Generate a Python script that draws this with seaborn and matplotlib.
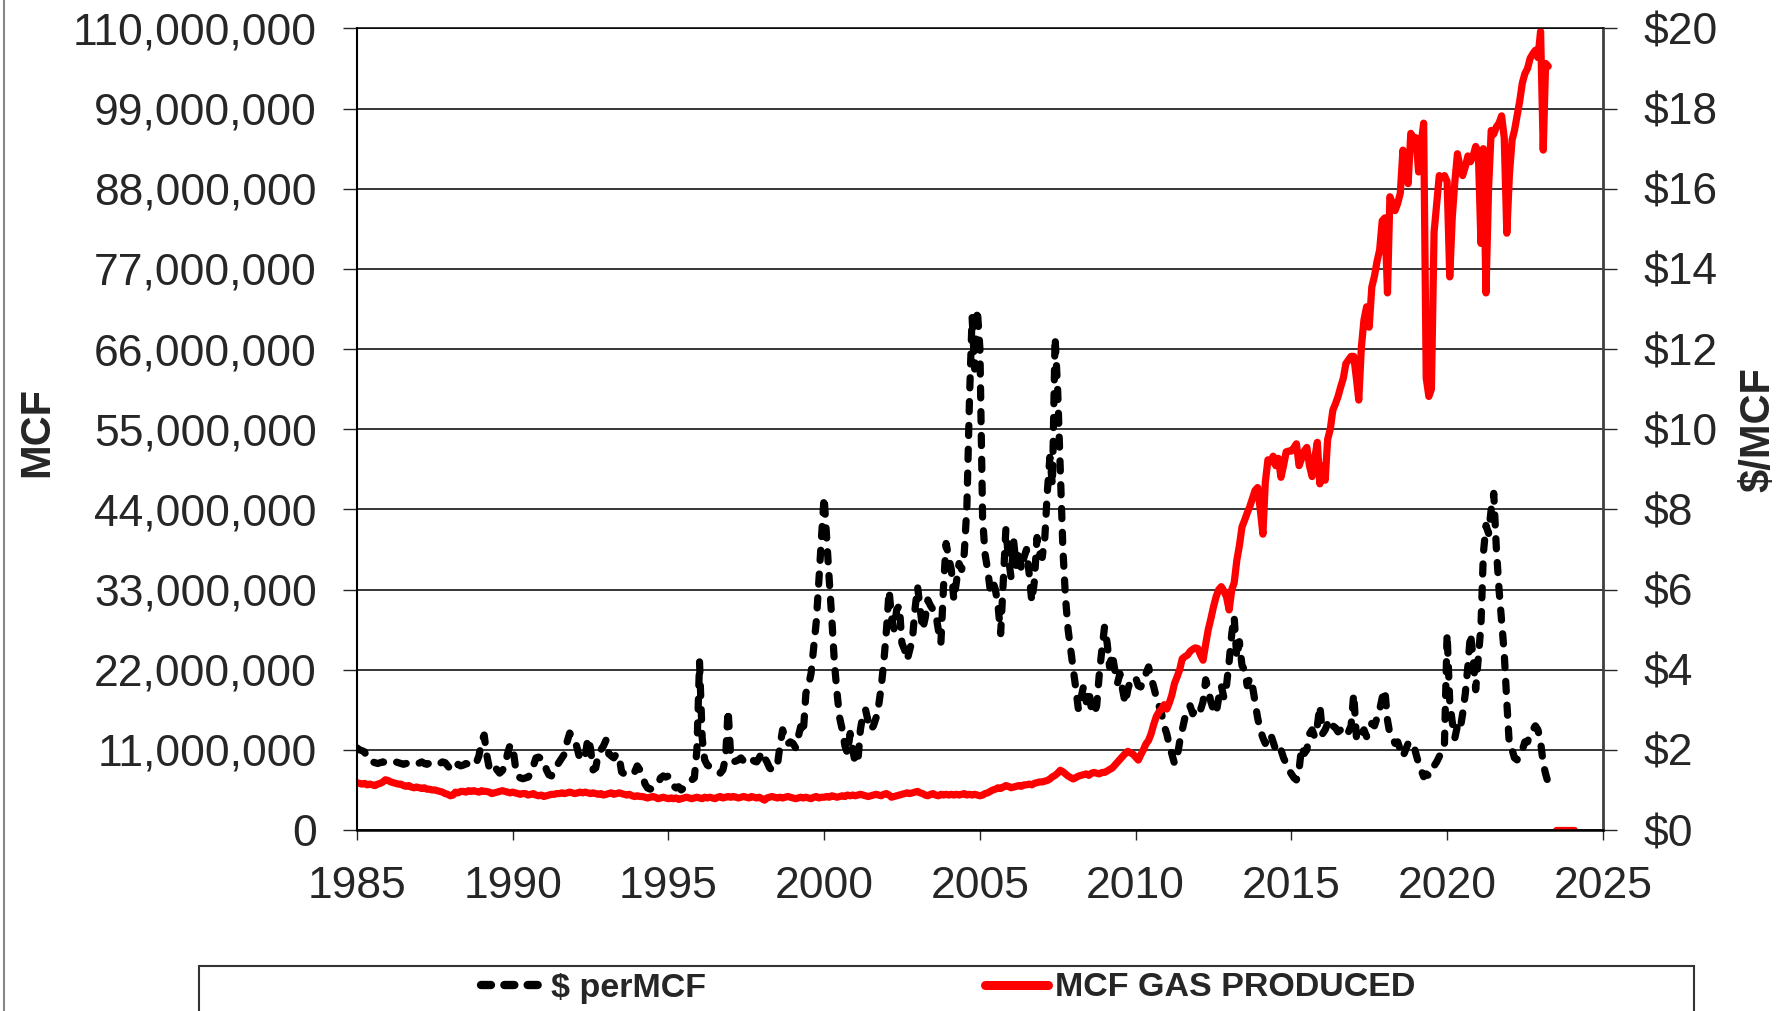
import pandas as pd
import matplotlib
matplotlib.use("Agg")
import matplotlib.pyplot as plt
import seaborn as sns
from matplotlib.lines import Line2D
from matplotlib.patches import Rectangle
from matplotlib.ticker import FuncFormatter, MultipleLocator

# monthly wellhead price, $/MCF, Jan 1985 .. Apr 2023 (one row per year)
price_per_mcf = [
    2.05, 2.0, 1.98, 1.95, 1.78, 1.72, 1.7, 1.68, 1.66, 1.68, 1.7, 1.68,      # 1985
    1.66, 1.65, 1.67, 1.7, 1.68, 1.66, 1.64, 1.66, 1.7, 1.68, 1.66, 1.65,     # 1986
    1.67, 1.7, 1.66, 1.64, 1.67, 1.7, 1.68, 1.65, 1.66, 1.7, 1.68, 1.6,       # 1987
    1.52, 1.48, 1.56, 1.64, 1.6, 1.62, 1.66, 1.64, 1.62, 1.6, 1.68, 1.85,     # 1988
    2.2, 2.37, 1.9, 1.55, 1.5, 1.6, 1.5, 1.42, 1.48, 1.6, 1.9, 2.12,          # 1989
    2.1, 1.6, 1.35, 1.3, 1.28, 1.3, 1.32, 1.4, 1.6, 1.8, 1.82, 1.78,          # 1990
    1.75, 1.5, 1.38, 1.35, 1.5, 1.6, 1.7, 1.8, 1.9, 2.2, 2.42, 2.3,           # 1991
    2.25, 2.0, 1.75, 1.78, 1.85, 2.3, 2.05, 1.5, 1.55, 1.9, 2.0, 2.1,         # 1992
    2.25, 1.9, 1.85, 1.8, 1.9, 1.85, 1.45, 1.4, 1.42, 1.4, 1.38, 1.45,        # 1993
    1.6, 1.5, 1.4, 1.15, 1.05, 1.02, 1.05, 1.1, 1.15, 1.3, 1.35, 1.32,        # 1994
    1.35, 1.25, 1.1, 1.05, 1.08, 1.0, 1.05, 1.12, 1.2, 1.25, 1.3, 2.0,        # 1995
    4.2, 2.3, 1.75, 1.62, 1.58, 1.55, 1.5, 1.45, 1.42, 1.5, 1.8, 3.0,         # 1996
    1.83, 1.7, 1.72, 1.75, 1.8, 1.72, 1.68, 1.75, 1.78, 1.72, 1.7, 1.8,       # 1997
    1.95, 1.8, 1.7, 1.55, 1.5, 1.52, 1.6, 2.1, 2.5, 2.3, 2.15, 2.2,           # 1998
    2.16, 2.05, 2.3, 2.58, 2.4, 3.41, 3.6, 3.91, 4.57, 5.2, 6.24, 7.3,        # 1999
    8.32, 7.24, 6.24, 5.24, 4.16, 3.41, 2.8, 2.5, 2.1, 1.91, 2.41, 2.0,       # 2000
    1.66, 1.75, 2.5, 2.9, 3.0, 2.7, 2.5, 2.6, 2.8, 3.1, 3.58, 4.2,            # 2001
    5.0, 5.98, 5.3, 5.0, 5.5, 5.6, 4.66, 4.5, 4.24, 4.5, 4.74, 5.5,           # 2002
    6.07, 5.5, 5.0, 5.3, 5.74, 5.6, 5.5, 5.41, 5.0, 4.66, 6.07, 7.15,         # 2003
    6.8, 6.49, 5.74, 6.2, 6.65, 6.5, 6.9, 8.07, 10.8, 12.8, 11.5, 13.0,       # 2004
    12.0, 7.8, 6.9, 6.5, 6.0, 6.2, 6.0, 5.6, 4.9, 6.2, 7.5, 6.8,              # 2005
    6.3, 7.2, 6.6, 7.0, 6.5, 6.8, 7.0, 6.4, 5.7, 6.2, 7.3, 6.9,               # 2006
    6.8, 7.3, 8.4, 9.3, 8.6, 12.3, 11.0, 9.0, 7.0, 5.8, 5.0, 4.5,             # 2007
    4.0, 3.5, 3.0, 3.3, 3.6, 3.2, 3.5, 3.0, 2.9, 3.1, 3.9, 4.5,               # 2008
    5.07, 4.66, 4.07, 4.4, 4.0, 3.66, 3.9, 3.5, 3.16, 3.5, 3.74, 3.8,         # 2009
    3.8, 3.6, 3.57, 3.7, 3.9, 4.07, 3.8, 3.57, 3.3, 3.1, 2.9, 2.6,            # 2010
    2.4, 2.1, 1.9, 1.66, 1.8, 2.2, 2.5, 2.8, 3.0, 3.1, 2.9, 3.0,              # 2011
    2.9, 3.0, 3.2, 3.75, 3.5, 3.2, 3.0, 2.9, 3.3, 3.6, 3.3, 3.6,              # 2012
    4.2, 4.9, 5.32, 4.3, 4.7, 4.1, 4.0, 3.6, 3.8, 3.6, 3.2, 2.8,              # 2013
    2.5, 2.3, 2.16, 2.3, 2.4, 2.2, 2.0, 2.1, 2.0, 1.8, 1.66, 1.5,             # 2014
    1.4, 1.3, 1.25, 1.5, 2.08, 1.91, 2.0, 2.4, 2.5, 2.33, 2.6, 3.1,           # 2015
    2.4, 2.5, 2.66, 2.5, 2.6, 2.55, 2.45, 2.5, 2.4, 2.5, 2.45, 2.6,           # 2016
    3.4, 2.33, 2.5, 2.4, 2.5, 2.33, 2.5, 2.66, 2.6, 2.8, 3.0, 3.3,            # 2017
    3.5, 2.74, 2.4, 2.3, 2.16, 2.2, 2.0, 1.83, 2.0, 2.16, 2.2, 2.16,          # 2018
    1.9, 1.66, 1.5, 1.33, 1.4, 1.35, 1.5, 1.6, 1.7, 1.83, 2.0, 2.16,          # 2019
    4.9, 3.2, 2.7, 2.3, 2.6, 2.5, 2.9, 3.4, 4.1, 4.9, 4.3, 3.5,               # 2020
    4.3, 5.1, 6.9, 7.6, 7.4, 8.0, 8.4, 7.0, 6.0, 5.2, 4.4, 3.2,               # 2021
    2.08, 2.0, 1.8, 1.75, 1.9, 2.0, 2.2, 2.2, 2.4, 2.5, 2.6, 2.5,             # 2022
    2.2, 1.66, 1.4, 1.17,                                                     # 2023
]

# monthly gas produced, millions of MCF, Jan 1985 .. Apr 2023
mcf_millions = [
    6.5, 6.4, 6.3, 6.4, 6.2, 6.3, 6.2, 6.1, 6.3, 6.4, 6.6, 6.9,               # 1985
    6.8, 6.6, 6.5, 6.4, 6.3, 6.3, 6.1, 6.0, 6.1, 5.9, 5.8, 5.9,               # 1986
    5.8, 5.7, 5.8, 5.6, 5.6, 5.5, 5.5, 5.4, 5.3, 5.2, 5.0, 4.9,               # 1987
    4.7, 4.8, 5.2, 5.1, 5.3, 5.3, 5.2, 5.4, 5.3, 5.4, 5.3, 5.2,               # 1988
    5.4, 5.3, 5.3, 5.2, 5.0, 5.1, 5.2, 5.3, 5.4, 5.3, 5.2, 5.1,               # 1989
    5.2, 5.1, 5.0, 4.9, 5.0, 5.0, 4.8, 4.9, 5.0, 4.8, 4.7, 4.8,               # 1990
    4.6, 4.7, 4.8, 4.9, 4.9, 5.0, 5.0, 5.1, 5.0, 5.1, 5.2, 5.1,               # 1991
    5.0, 5.1, 5.2, 5.1, 5.2, 5.1, 5.0, 5.1, 5.0, 4.9, 5.0, 4.8,               # 1992
    4.9, 5.0, 5.1, 4.9, 5.0, 5.1, 5.0, 4.9, 4.8, 4.9, 4.7, 4.6,               # 1993
    4.7, 4.6, 4.6, 4.5, 4.4, 4.5, 4.6, 4.5, 4.3, 4.4, 4.5, 4.4,               # 1994
    4.3, 4.4, 4.3, 4.4, 4.2, 4.3, 4.4, 4.5, 4.4, 4.3, 4.4, 4.5,               # 1995
    4.4, 4.3, 4.5, 4.4, 4.5, 4.4, 4.3, 4.5, 4.6, 4.4, 4.5, 4.6,               # 1996
    4.5, 4.6, 4.5, 4.4, 4.5, 4.6, 4.5, 4.4, 4.6, 4.5, 4.4, 4.5,               # 1997
    4.3, 4.1, 4.4, 4.5, 4.6, 4.5, 4.4, 4.5, 4.4, 4.5, 4.6, 4.5,               # 1998
    4.4, 4.3, 4.4, 4.5, 4.4, 4.5, 4.4, 4.3, 4.5, 4.6, 4.4, 4.5,               # 1999
    4.5, 4.6, 4.5, 4.7, 4.6, 4.5, 4.6, 4.7, 4.6, 4.8, 4.7, 4.8,               # 2000
    4.7, 4.8, 4.9, 4.8, 4.7, 4.6, 4.7, 4.8, 4.9, 4.8, 4.7, 4.9,               # 2001
    5.0, 4.8, 4.5, 4.6, 4.7, 4.8, 4.9, 5.0, 5.1, 5.0, 5.1, 5.2,               # 2002
    5.3, 5.1, 5.0, 4.8, 4.7, 4.9, 5.0, 4.8, 4.7, 4.9, 4.8, 4.9,               # 2003
    4.8, 4.9, 4.8, 4.9, 4.8, 4.9, 5.0, 4.8, 4.9, 4.8, 4.9, 4.8,               # 2004
    4.7, 4.8, 5.0, 5.1, 5.3, 5.5, 5.6, 5.8, 5.7, 5.9, 6.1, 6.0,               # 2005
    5.8, 5.9, 6.0, 6.1, 6.0, 6.2, 6.2, 6.3, 6.2, 6.4, 6.5, 6.6,               # 2006
    6.6, 6.7, 6.8, 7.0, 7.3, 7.5, 7.8, 8.2, 8.0, 7.7, 7.4, 7.2,               # 2007
    7.0, 7.2, 7.4, 7.5, 7.6, 7.7, 7.5, 7.8, 7.9, 7.8, 7.7, 7.9,               # 2008
    7.9, 8.1, 8.3, 8.5, 8.9, 9.3, 9.7, 10.1, 10.5, 10.8, 10.6, 10.4,          # 2009
    10.0, 9.6, 10.3, 11.0, 11.8, 12.3, 13.2, 14.5, 15.6, 16.2, 16.6, 17.2,    # 2010
    16.6, 17.5, 18.5, 20.1, 21.0, 22.0, 23.5, 23.8, 24.0, 24.5, 24.8, 25.0,   # 2011
    24.9, 24.0, 23.3, 25.5, 27.5, 29.0, 30.6, 32.0, 33.0, 33.4, 32.8, 32.0,   # 2012
    30.2, 33.0, 33.9, 37.0, 39.0, 41.6, 42.5, 43.5, 44.4, 45.5, 46.6, 47.0,   # 2013
    44.0, 40.6, 47.7, 50.8, 50.5, 51.3, 50.0, 51.0, 48.4, 50.0, 51.9, 52.0,   # 2014
    52.0, 52.5, 53.0, 50.0, 51.0, 52.0, 52.5, 50.0, 48.5, 51.0, 53.2, 47.5,   # 2015
    50.0, 48.0, 53.6, 55.0, 57.6, 58.5, 59.5, 60.8, 62.0, 64.0, 64.5, 65.0,   # 2016
    65.0, 62.0, 59.0, 66.3, 70.0, 71.8, 69.0, 74.5, 76.0, 78.0, 79.6, 83.6,   # 2017
    84.0, 73.7, 86.9, 86.0, 85.0, 86.0, 87.4, 93.3, 90.0, 88.7, 95.6, 95.0,   # 2018
    95.0, 90.3, 94.0, 97.0, 62.0, 59.5, 60.5, 82.0, 86.0, 89.8, 89.5, 89.8,   # 2019
    89.0, 75.9, 84.0, 89.0, 92.8, 91.0, 89.8, 91.0, 92.5, 91.7, 92.5, 93.8,   # 2020
    93.0, 80.5, 93.5, 73.7, 88.0, 96.0, 95.5, 96.5, 97.0, 98.0, 95.0, 81.9,   # 2021
    90.0, 94.7, 96.0, 98.0, 100.0, 102.5, 103.8, 104.5, 105.9, 106.5, 107.0, 106.0,  # 2022
    109.6, 93.3, 105.2, 104.8,                                                # 2023
]

# trailing months reported as zero production (Jul 2023 .. Feb 2024)
tail_mcf_millions = [0, 0, 0, 0, 0, 0, 0, 0]

x_tick_years = [1985, 1990, 1995, 2000, 2005, 2010, 2015, 2020, 2025]
series_names = ["$ perMCF", "MCF GAS PRODUCED"]

months = pd.date_range("1985-01-01", periods=len(price_per_mcf), freq="MS")
tail_months = pd.date_range("2023-07-01", periods=len(tail_mcf_millions), freq="MS")
df = pd.DataFrame({"month": months, "price": price_per_mcf, "mcf": mcf_millions})
tail = pd.DataFrame({"month": tail_months, "mcf": tail_mcf_millions})

sns.set_style("white")
plt.rcParams["font.family"] = ["Liberation Sans", "DejaVu Sans"]

LW = 5.2
dash = (0, (1.4, 1.9))

fig = plt.figure(figsize=(17.83, 10.11), dpi=100)
ax = fig.add_axes([0.2002, 0.1790, 0.6988, 0.7929])
ax2 = ax.twinx()

# red production on top, black price line underneath
ax.set_zorder(ax2.get_zorder() + 1)
ax.patch.set_visible(False)
ax2.set_facecolor("#FFFFCC")

sns.lineplot(data=df, x="month", y="price", ax=ax2, color="black")
sns.lineplot(data=df, x="month", y="mcf", ax=ax, color="#FF0000")
sns.lineplot(data=tail, x="month", y="mcf", ax=ax, color="#FF0000")

for ln in ax2.lines:
    ln.set_linewidth(LW)
    ln.set_linestyle(dash)
    ln.set_dash_capstyle("round")
for ln in ax.lines:
    ln.set_linewidth(LW)
    ln.set_solid_capstyle("round")
    ln.set_solid_joinstyle("round")

ax.set_xlim(pd.Timestamp("1985-01-01"), pd.Timestamp("2025-01-01"))
ax.set_ylim(0, 110)
ax2.set_ylim(0, 20)
ax.yaxis.set_major_locator(MultipleLocator(11))
ax2.yaxis.set_major_locator(MultipleLocator(2))
ax.yaxis.set_major_formatter(FuncFormatter(lambda v, p: f"{v * 1e6:,.0f}"))
ax2.yaxis.set_major_formatter(FuncFormatter(lambda v, p: f"${v:.0f}"))
ax.set_xticks([pd.Timestamp(f"{y}-01-01") for y in x_tick_years])
ax.set_xticklabels([str(y) for y in x_tick_years])

ax2.yaxis.grid(True, color="black", lw=1.1)
ax.set_xlabel("")
ax.set_ylabel("")
ax2.set_ylabel("")

ax.tick_params(axis="y", direction="out", length=10, width=1, pad=19, labelsize=32, left=True)
ax2.tick_params(axis="y", direction="out", length=10, width=1, pad=19, labelsize=32, right=True)
ax.tick_params(axis="x", direction="out", length=7, width=1, pad=19, labelsize=32, bottom=True)

for a in (ax, ax2):
    for s in a.spines.values():
        s.set_visible(False)
ax.spines["left"].set_visible(True)
ax.spines["left"].set_color("black")
ax.spines["left"].set_linewidth(1.5)
ax.spines["bottom"].set_visible(True)
ax.spines["bottom"].set_color("black")
ax.spines["bottom"].set_linewidth(1.8)
ax.spines["top"].set_visible(True)
ax.spines["top"].set_color("black")
ax.spines["top"].set_linewidth(1.1)
ax2.spines["right"].set_visible(True)
ax2.spines["right"].set_color("#404040")
ax2.spines["right"].set_linewidth(2)

fig.text(37 / 1783, 1 - 432 / 1011, "MCF", rotation=90, weight="bold", size=30,
         ha="center", va="center")
fig.text(1758 / 1783, 1 - 430 / 1011, "$/MCF", rotation=90, weight="bold", size=30,
         ha="center", va="center")

# legend strip at the bottom (cut by the figure edge, as in the source)
fig.add_artist(Rectangle((199 / 1783, -0.05), (1694 - 199) / 1783, 0.05 + 1 - 966 / 1011,
                         transform=fig.transFigure, fill=False, edgecolor="#333333",
                         lw=1.5, clip_on=False))
handles = [Line2D([], [], color="black", lw=6, linestyle=(0, (1.2, 1.6)), dash_capstyle="round"),
           Line2D([], [], color="#FF0000", lw=6.5)]
fig.legend(handles, series_names, loc="center", bbox_to_anchor=(948 / 1783, 1 - 988 / 1011),
           ncol=2, frameon=False, prop={"weight": "bold", "size": 24.5},
           handlelength=1.85, handletextpad=0.2, columnspacing=8.2)

fig.add_artist(Line2D([0.002, 0.002], [0, 1], transform=fig.transFigure,
                      color="#888888", lw=1.5))

fig.savefig("out.png", dpi=100)
